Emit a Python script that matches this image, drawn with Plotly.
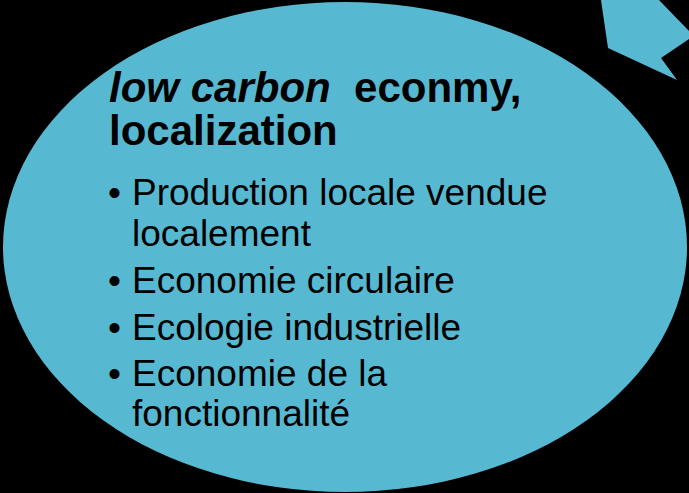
import plotly.graph_objects as go

# Text content
title_lines = ["<b><i>low carbon</i>&nbsp;&nbsp;econmy,</b>", "<b>localization</b>"]
bullet_items = [
    ["Production locale vendue", "localement"],
    ["Economie circulaire"],
    ["Ecologie industrielle"],
    ["Economie de la", "fonctionnalité"],
]

W, H = 689, 493
bubble_color = "#56B9D1"
font_family = "Liberation Sans, Arial, sans-serif"

fig = go.Figure()

shapes = [
    dict(type="circle", xref="x", yref="y", x0=3, x1=687, y0=2, y1=492,
         fillcolor=bubble_color, line=dict(width=0), layer="below"),
    dict(type="path", xref="x", yref="y",
         path="M 601 0 L 659 0 L 692 34 L 692 37 L 661 58 L 677 80 L 608 48 Z",
         fillcolor=bubble_color, line=dict(width=0), layer="below"),
]

annotations = []
title_size = 42
body_size = 37

def add_line(text, x, baseline, size):
    annotations.append(dict(
        x=x, y=baseline - 0.33 * size, xref="x", yref="y",
        xanchor="left", yanchor="middle", showarrow=False,
        text=text, font=dict(family=font_family, size=size, color="black"),
        borderpad=0,
    ))

title_baselines = [101, 144]
for t, b in zip(title_lines, title_baselines):
    add_line(t, 108, b, title_size)

item_baselines = [[205, 246], [293], [340], [386, 426]]
for item, bases in zip(bullet_items, item_baselines):
    for i, (line, b) in enumerate(zip(item, bases)):
        if i == 0:
            add_line("•", 107, b, body_size)
        add_line(line, 131, b, body_size)

fig.update_layout(
    width=W, height=H,
    margin=dict(l=0, r=0, t=0, b=0),
    paper_bgcolor="black", plot_bgcolor="black",
    xaxis=dict(range=[0, W], visible=False, fixedrange=True),
    yaxis=dict(range=[H, 0], visible=False, fixedrange=True),
    shapes=shapes, annotations=annotations, showlegend=False,
)

fig.write_html(
    "out.html",
    config={"displayModeBar": False},
    post_script="document.body.style.margin='0';document.body.style.background='black';document.body.style.overflow='hidden';",
)
